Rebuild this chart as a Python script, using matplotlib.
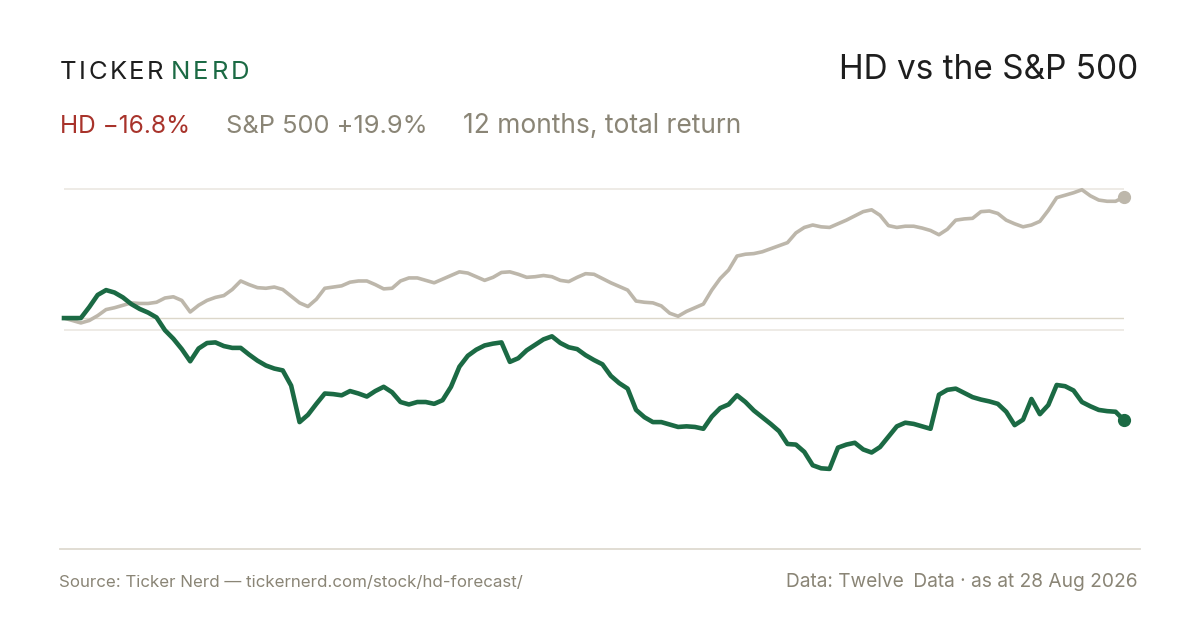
import matplotlib.pyplot as plt

# 12 months of total return (%), sampled every second trading day
hd_return = [
    0.0, 0.0, 0.0, 1.8, 3.8, 4.6, 4.2, 3.4, 2.3, 1.5,
    0.9, 0.1, -2.0, -3.4, -5.1, -7.1, -5.0, -4.1, -4.0, -4.6,
    -4.9, -4.9, -6.0, -7.0, -7.8, -8.3, -8.6, -11.1, -17.1, -15.9,
    -14.1, -12.4, -12.5, -12.7, -12.0, -12.4, -12.9, -12.0, -11.3, -12.2,
    -13.8, -14.2, -13.8, -13.8, -14.1, -13.5, -11.3, -8.0, -6.2, -5.2,
    -4.5, -4.2, -4.0, -7.2, -6.6, -5.3, -4.4, -3.5, -3.0, -4.1,
    -4.8, -5.1, -6.1, -6.9, -7.6, -9.5, -10.7, -11.6, -15.1, -16.3,
    -17.1, -17.1, -17.5, -17.9, -17.8, -17.9, -18.2, -16.2, -14.8, -14.2,
    -12.7, -13.8, -15.2, -16.3, -17.4, -18.6, -20.7, -20.8, -22.0, -24.2,
    -24.7, -24.8, -21.3, -20.8, -20.5, -21.6, -22.1, -21.2, -19.5, -17.8,
    -17.2, -17.4, -17.8, -18.2, -12.6, -11.8, -11.6, -12.3, -13.0, -13.4,
    -13.7, -14.1, -15.4, -17.6, -16.7, -13.3, -15.8, -14.3, -11.0, -11.2,
    -11.9, -13.8, -14.5, -15.1, -15.3, -15.4, -16.8,
]
spx_return = [
    0.0, -0.4, -0.8, -0.4, 0.4, 1.4, 1.7, 2.1, 2.5, 2.4,
    2.4, 2.6, 3.3, 3.5, 2.9, 1.0, 2.1, 2.9, 3.4, 3.7,
    4.7, 6.1, 5.5, 5.0, 4.9, 5.1, 4.7, 3.6, 2.5, 1.9,
    3.1, 4.9, 5.1, 5.3, 5.9, 6.1, 6.1, 5.5, 4.8, 4.9,
    6.1, 6.6, 6.6, 6.2, 5.8, 6.4, 7.0, 7.6, 7.4, 6.8,
    6.2, 6.7, 7.5, 7.6, 7.2, 6.7, 6.8, 7.0, 6.8, 6.2,
    6.0, 6.7, 7.3, 7.2, 6.5, 5.8, 5.2, 4.6, 2.8, 2.6,
    2.5, 2.0, 0.8, 0.3, 1.1, 1.7, 2.3, 4.6, 6.5, 7.9,
    10.2, 10.5, 10.6, 10.9, 11.4, 11.9, 12.4, 14.0, 14.9, 15.3,
    15.0, 14.9, 15.5, 16.1, 16.8, 17.5, 17.8, 16.9, 15.2, 14.9,
    15.1, 15.1, 14.8, 14.4, 13.7, 14.6, 16.1, 16.3, 16.4, 17.5,
    17.6, 17.2, 16.1, 15.5, 15.0, 15.3, 15.9, 17.7, 19.8, 20.2,
    20.6, 21.1, 20.1, 19.4, 19.2, 19.2, 19.9,
]
hd_total = -16.8
spx_total = 19.9
gridlines = [21.2, -2.0]

GREEN = '#1b6a44'
SAND = '#bdb7ab'
RED = '#a8332b'
MUTED = '#8a8576'
INK = '#1e1e1e'

plt.rcParams['font.family'] = ['Inter', 'DejaVu Sans']

W, H = 1200, 630
fig = plt.figure(figsize=(12, 6.3), dpi=100)
fig.patch.set_facecolor('white')

ax = fig.add_axes([64 / W, 1 - 548 / H, 1060 / W, 368 / H])
ax.set_xlim(0, len(hd_return) - 1)
ax.set_ylim(-37.8, 22.7)
ax.axis('off')

for g in gridlines:
    ax.axhline(g, color='#ebe8e2', lw=1.2, zorder=1)
ax.axhline(0, color='#dcd7ca', lw=1.0, zorder=1)

days = range(len(hd_return))
ax.plot(days, spx_return, color=SAND, lw=2.6, solid_joinstyle='round', zorder=2, clip_on=False)
ax.plot(days, hd_return, color=GREEN, lw=3.3, solid_joinstyle='round', zorder=3, clip_on=False)
ax.plot(len(spx_return) - 1, spx_return[-1], 'o', color=SAND, ms=8.5, zorder=4, clip_on=False)
ax.plot(len(hd_return) - 1, hd_return[-1], 'o', color=GREEN, ms=8.5, zorder=4, clip_on=False)


def fy(py):
    return 1 - py / H


def spaced(s, x0, x1, base, color, size):
    # letter-spaced wordmark: spread the glyphs evenly between x0 and x1
    r = fig.canvas.get_renderer()
    items = [fig.text(0, fy(base), c, fontsize=size, color=color, va='baseline') for c in s]
    widths = [t.get_window_extent(r).width for t in items]
    gap = (x1 - x0 - sum(widths)) / (len(s) - 1)
    x = x0
    for t, w in zip(items, widths):
        t.set_x(x / W)
        x += w + gap


# logo
spaced('TICKER', 60, 163, 79, INK, 18.5)
spaced('NERD', 171, 249, 79, GREEN, 18.5)

fig.text(1138 / W, fy(79), 'HD vs the S&P 500', fontsize=24, color=INK, ha='right', va='baseline')

fig.text(60 / W, fy(133), f'HD \u2212{abs(hd_total):.1f}%', fontsize=17.6, color=RED, va='baseline')
fig.text(226 / W, fy(133), f'S&P 500 +{spx_total:.1f}%', fontsize=18.3, color=MUTED, va='baseline')
fig.text(463 / W, fy(133), '12 months, total return', fontsize=19, color=MUTED, va='baseline')

fig.add_artist(plt.Line2D([60 / W, 1140 / W], [fy(549), fy(549)], color='#dedad0', lw=1.3))

fig.text(59 / W, fy(587), 'Source: Ticker Nerd \u2014 tickernerd.com/stock/hd-forecast/',
         fontsize=12.2, color=MUTED, va='baseline')
fig.text(1138 / W, fy(587), 'Data: Twelve\u2002Data \u00b7 as at 28 Aug 2026',
         fontsize=13.8, color=MUTED, ha='right', va='baseline')

fig.savefig('out.png', dpi=100)
